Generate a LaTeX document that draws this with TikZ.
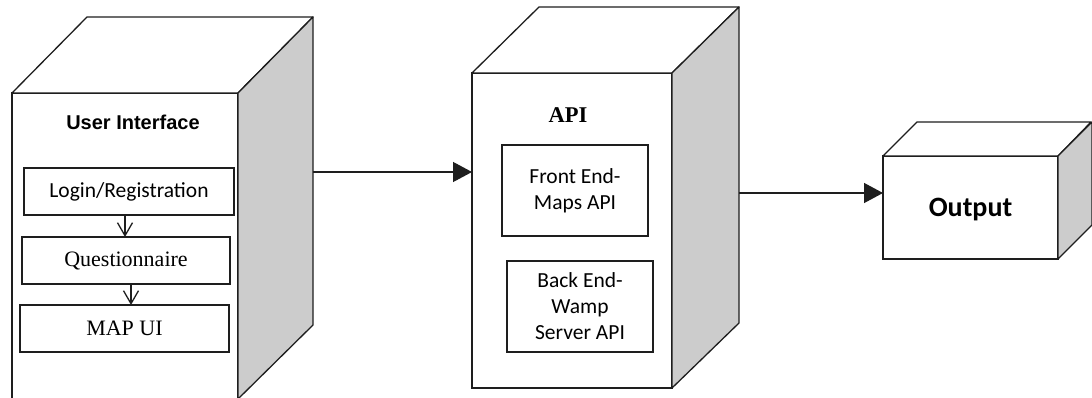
\documentclass[tikz,border=0pt]{standalone}
\usepackage{fontspec}
\setmainfont{Liberation Serif}
\newfontfamily\calfont{Carlito}
\newfontfamily\arialfont{Liberation Sans}
\usetikzlibrary{arrows.meta}
\definecolor{sidegray}{RGB}{204,204,204}
\definecolor{edge}{RGB}{30,30,30}
\tikzset{
  face/.style={draw=edge, line width=1.3pt, fill=white, rectangle, outer sep=0pt, inner sep=0pt},
  sideface/.style={draw=edge, line width=1.3pt, fill=sidegray, line join=round},
  topface/.style={draw=edge, line width=1.3pt, fill=white, line join=round},
  innerbox/.style={draw=edge, line width=1.3pt, fill=white, rectangle, outer sep=0pt, inner sep=0pt, align=center},
  smallarr/.style={draw=edge, line width=1.3pt, -{Straight Barb[length=13pt,width=15pt,line width=1.3pt]}},
  bigarr/.style={draw=edge, line width=1.3pt, -{Triangle[length=19pt,width=20pt]}},
  caltext/.style={font=\calfont\fontsize{21.5}{26}\selectfont},
  sertext/.style={font=\fontsize{22}{26}\selectfont},
}
\begin{document}
\begin{tikzpicture}[x=1pt,y=-1pt]
\clip (0,0) rectangle (1092,398);
\fill[white] (0,0) rectangle (1092,398);

% ---------- User Interface box ----------
\node[face, minimum width=226pt, minimum height=306pt, anchor=north west] (ui) at (12,93) {};
\draw[topface] (ui.north west) -- ++(75,-76) -- ++(226,0) -- (ui.north east) -- cycle;
\draw[sideface] (ui.north east) -- ++(75,-76) -- ++(0,308) -- (ui.south east) -- cycle;
\node[font=\arialfont\bfseries\fontsize{20}{24}\selectfont] (uilabel) at (133,122) {User Interface};

\node[innerbox, caltext, minimum width=210pt, minimum height=47pt] (login) at (129,191.5) {Login/Registration};
\node[innerbox, sertext, minimum width=208pt, minimum height=47pt] (quest) at (126,260.5) {Questionnaire};
\node[innerbox, sertext, minimum width=209pt, minimum height=47pt] (mapui) at (124.5,328.5) {MAP UI};

\draw[smallarr] ([xshift=-4pt]login.south) -- ([xshift=-4pt]login.south |- quest.north);
\draw[smallarr] ([xshift=5pt]quest.south) -- ([xshift=5pt]quest.south |- mapui.north);

% ---------- API box ----------
\node[face, minimum width=200pt, minimum height=315pt, anchor=north west] (api) at (472,73) {};
\draw[topface] (api.north west) -- ++(67,-66) -- ++(200,0) -- (api.north east) -- cycle;
\draw[sideface] (api.north east) -- ++(67,-66) -- ++(0,316) -- (api.south east) -- cycle;
\node[font=\bfseries\fontsize{22.5}{26}\selectfont] (apilabel) at (568,115) {API};

\node[innerbox, caltext, minimum width=146pt, minimum height=91pt] (front) at (575,190.5) {Front End-\\Maps API};
\node[innerbox, caltext, minimum width=146pt, minimum height=91pt] (back) at (580,306.5) {Back End-\\Wamp\\Server API};

% ---------- Output box ----------
\node[face, minimum width=175pt, minimum height=103pt, anchor=north west, text depth=0pt, font=\calfont\bfseries\fontsize{28}{32}\selectfont] (out) at (883,156) {Output};
\draw[topface] (out.north west) -- ++(34,-34) -- ++(174,0) -- (out.north east) -- cycle;
\draw[sideface] (out.north east) -- ++(34,-34) -- ++(0,103) -- (out.south east) -- cycle;

% ---------- connectors ----------
\coordinate (a1s) at (313,172);
\draw[bigarr] (a1s) -- (a1s -| api.west);
\coordinate (a2s) at (739,193);
\draw[bigarr] (a2s) -- (a2s -| out.west);
\end{tikzpicture}
\end{document}
